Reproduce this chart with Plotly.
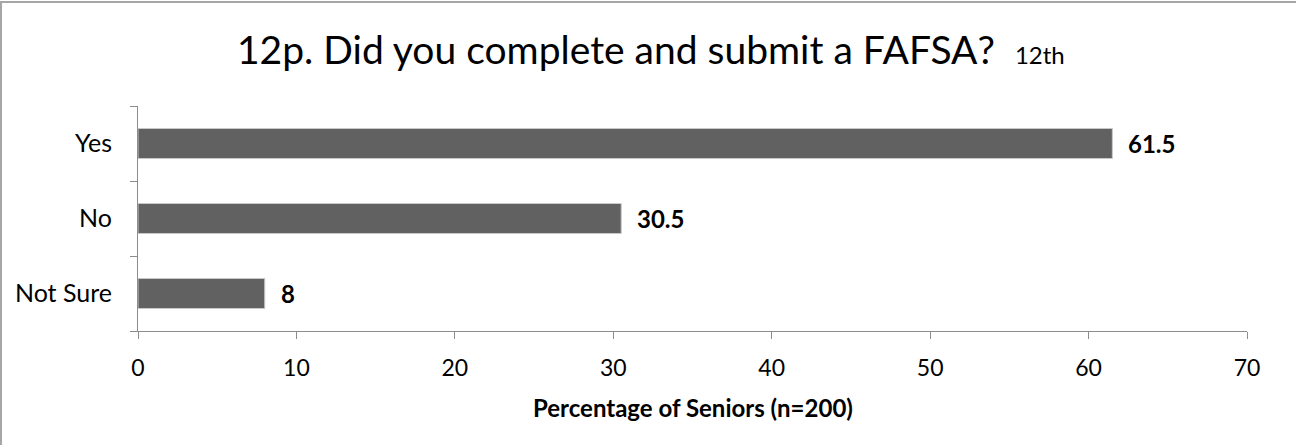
import plotly.graph_objects as go

categories = ["Not Sure", "No", "Yes"]
values = [8, 30.5, 61.5]
x_ticks = [0, 10, 20, 30, 40, 50, 60, 70]

FONT = "Lato"
W, H = 1296, 445
L, R, T, B = 138, 49, 106, 114
PW, PH = W - L - R, H - T - B

fig = go.Figure(go.Bar(
    x=values, y=categories, orientation="h",
    marker=dict(color="#616161", line=dict(color="#c8c8c8", width=1)),
    width=0.4, hoverinfo="x+y",
))

for v, c in zip(values, categories):
    fig.add_annotation(x=v, y=c, xref="x", yref="y", text=f"<b>{v:g}</b>",
                       showarrow=False, xanchor="left", yanchor="middle", xshift=14,
                       font=dict(family=FONT, size=24, color="#000000"))

fig.add_annotation(x=0.5, y=(T + PH - 407) / PH, xref="paper", yref="paper",
                   text="<b>Percentage of Seniors (n=200)</b>", showarrow=False,
                   xanchor="center", yanchor="middle",
                   font=dict(family=FONT, size=24, color="#000000"))

fig.update_layout(
    width=W, height=H,
    paper_bgcolor="white", plot_bgcolor="white",
    margin=dict(l=L, r=R, t=T, b=B),
    font=dict(family=FONT, color="#000000"),
    showlegend=False,
    title=dict(
        text="12p. Did you complete and submit a FAFSA?  <span style='font-size:24px'>12th</span>",
        x=237 / W, xanchor="left", y=1 - 50 / H, yanchor="middle",
        font=dict(family=FONT, size=39, color="#000000"),
    ),
    xaxis=dict(
        range=[0, 70], tickvals=x_ticks, showgrid=False, zeroline=False,
        showline=True, linecolor="#8c8c8c", linewidth=1,
        ticks="outside", ticklen=7, tickcolor="#8c8c8c",
        tickfont=dict(family=FONT, size=23), ticklabelstandoff=9,
    ),
    yaxis=dict(
        showgrid=False, zeroline=False, showline=True, linecolor="#8c8c8c", linewidth=1,
        ticks="outside", ticklen=7, tickcolor="#8c8c8c", tickson="boundaries",
        tickfont=dict(family=FONT, size=25), ticklabelstandoff=20,
    ),
    shapes=[dict(type="rect", xref="paper", yref="paper",
                 x0=(1 - L) / PW, x1=(W + 10 - L) / PW,
                 y0=(T + PH - (H + 10)) / PH, y1=(T + PH - 2) / PH,
                 line=dict(color="#a6a6a6", width=2), fillcolor="rgba(0,0,0,0)")],
)

fig.write_html("out.html", config={"displayModeBar": False},
               post_script="document.body.style.margin='0';document.body.style.overflow='hidden';")
